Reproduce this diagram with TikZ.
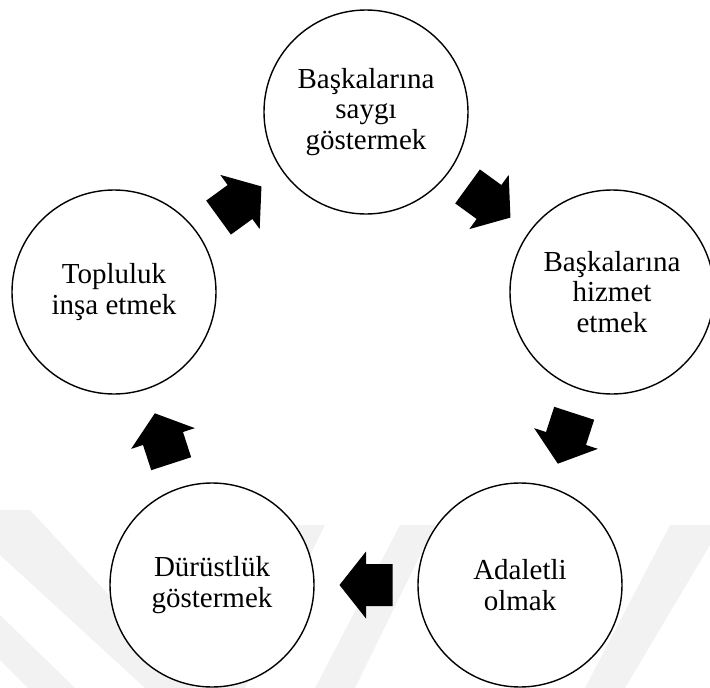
\documentclass[tikz,border=0pt]{standalone}
\usepackage{fontspec}
\setmainfont{Liberation Serif}
\usetikzlibrary{calc}
\newcommand\blkarrow[3]{%
  \begin{scope}[shift={($(#1)!0.5!(#2)$)}, rotate=#3]
    \fill[black] (-26.5,-21) -- (0,-21) -- (0,-33.5) -- (26.5,0) -- (0,33.5) -- (0,21) -- (-26.5,21) -- cycle;
  \end{scope}}
\begin{document}
\begin{tikzpicture}[x=1pt,y=-1pt,
  circ/.style={circle, draw, line width=1.4pt, fill=white, minimum size=204pt, inner sep=0pt, align=center, font=\fontsize{29}{30.5}\selectfont},
  wm/.style={fill=black!5}]
\useasboundingbox (0,0) rectangle (710,688);
% faint background watermark
\fill[wm] (0,510) -- (30,510) -- (195,688) -- (145,688) -- (0,555) -- cycle;
\fill[wm] (0,615) -- (0,660) -- (28,688) -- (75,688) -- cycle;
\fill[wm] (290,525) -- (325,525) -- (245,688) -- (205,688) -- cycle;
\fill[wm] (400,525) -- (435,525) -- (355,688) -- (315,688) -- cycle;
\fill[wm] (670,525) -- (710,525) -- (710,545) -- (625,688) -- (585,688) -- cycle;
% circles
\node[circ] (T)  at (366,112) {Başkalarına\\saygı\\göstermek};
\node[circ] (R)  at (612,292) {Başkalarına\\hizmet\\etmek};
\node[circ] (BR) at (520,585) {Adaletli\\olmak};
\node[circ] (BL) at (212,585) {Dürüstlük\\göstermek};
\node[circ] (L)  at (114,292) {Topluluk\\inşa etmek};
% block arrows
\blkarrow{T}{R}{-36}
\blkarrow{R}{BR}{-108}
\blkarrow{BR}{BL}{180}
\blkarrow{BL}{L}{108}
\blkarrow{L}{T}{36}
\end{tikzpicture}
\end{document}
